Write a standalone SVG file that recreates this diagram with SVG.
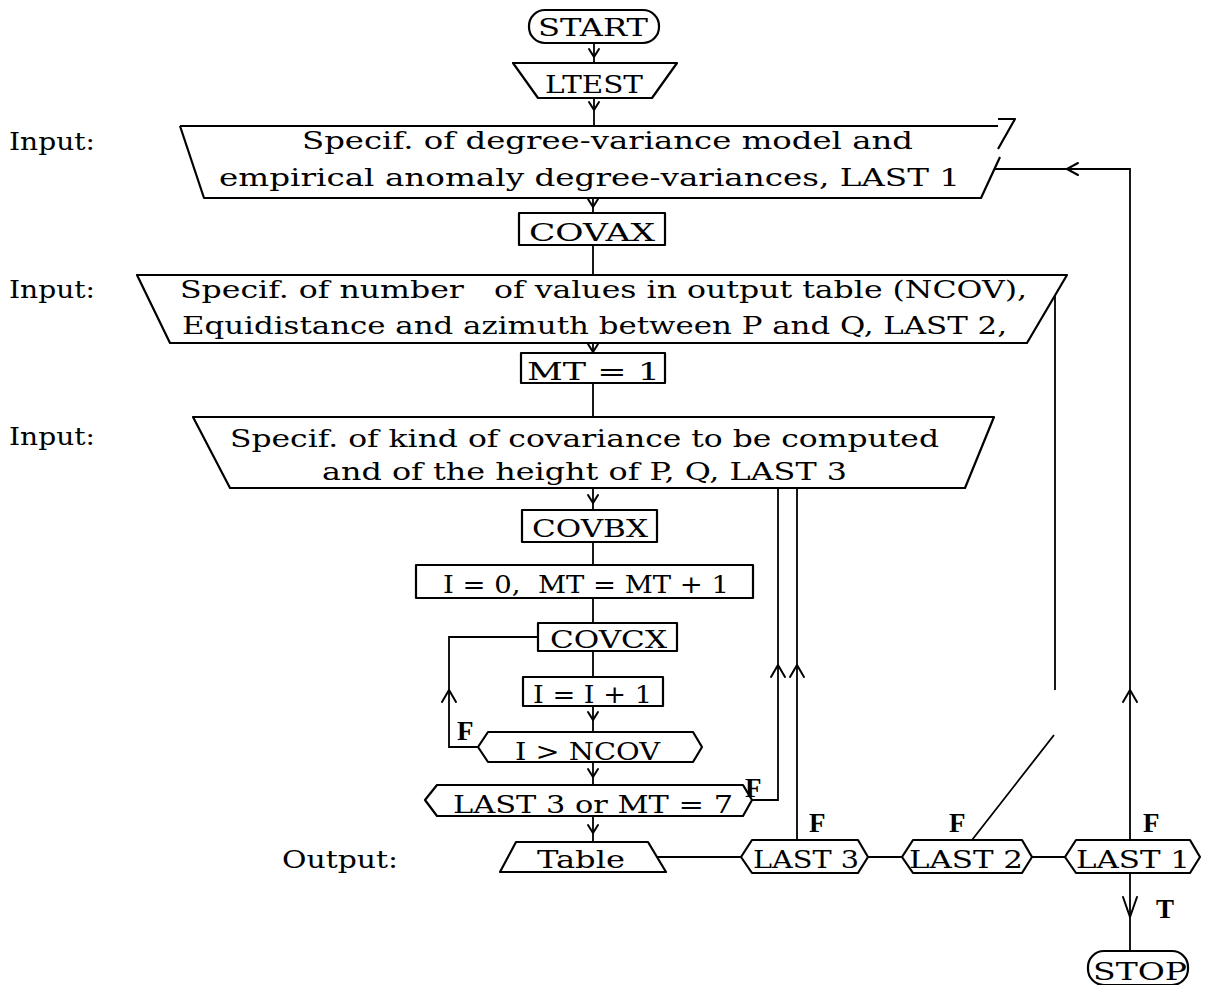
<svg xmlns="http://www.w3.org/2000/svg" xmlns:xlink="http://www.w3.org/1999/xlink" width="1210" height="985" viewBox="0 0 1210 985">
<style>
.sh{fill:none;stroke:#000;stroke-width:2.2;stroke-linejoin:round}
.ln{fill:none;stroke:#000;stroke-width:1.8}
.ah{fill:none;stroke:#000;stroke-width:2;stroke-linecap:round;stroke-linejoin:round}
text{font-family:"DejaVu Serif","Liberation Serif",serif;font-size:25px;fill:#000}
.f{font-family:"Liberation Serif",serif;font-weight:bold;font-size:27px}
</style>
<defs>
<path id="yd" d="M-5,-8 L0,0 L5,-8"/>
<path id="au" d="M-7,12 L0,0 L7,12"/>
<path id="al" d="M11,-6 L0,0 L11,6"/>
</defs>
<rect width="1210" height="985" fill="#fff"/>

<g id="start"><rect class="sh" x="529" y="10" width="130" height="33" rx="16"/><text x="538" y="36" textLength="110" lengthAdjust="spacingAndGlyphs">START</text></g>
<g id="ltest"><path class="sh" d="M513,63 L677,63 L652,98 L538,98 Z"/><text x="545" y="93" textLength="98" lengthAdjust="spacingAndGlyphs">LTEST</text></g>

<g id="input1"><text x="9" y="150" textLength="86" lengthAdjust="spacingAndGlyphs">Input:</text>
<path class="sh" d="M180,126 L998,126 M998,119 L1015,119 L998,149 M1000,157 L981,198 L204,198 L180,126"/>
<text x="302" y="149" textLength="611" lengthAdjust="spacingAndGlyphs">Specif. of degree-variance model and</text>
<text x="219" y="186" textLength="741" lengthAdjust="spacingAndGlyphs">empirical anomaly degree-variances, LAST 1</text></g>

<g id="covax"><rect class="sh" x="519" y="213" width="146" height="32"/><text x="529" y="241" textLength="126" lengthAdjust="spacingAndGlyphs">COVAX</text></g>

<g id="input2"><text x="9" y="298" textLength="86" lengthAdjust="spacingAndGlyphs">Input:</text>
<path class="sh" d="M137,275 L1067,275 L1027,343 L170,343 Z"/>
<text x="180" y="298" textLength="847" lengthAdjust="spacingAndGlyphs" xml:space="preserve">Specif. of number   of values in output table (NCOV),</text>
<text x="182" y="334" textLength="825" lengthAdjust="spacingAndGlyphs">Equidistance and azimuth between P and Q, LAST 2,</text></g>

<g id="mt1"><rect class="sh" x="521" y="353" width="144" height="30"/><text x="527" y="380" textLength="133" lengthAdjust="spacingAndGlyphs">MT = 1</text></g>

<g id="input3"><text x="9" y="445" textLength="86" lengthAdjust="spacingAndGlyphs">Input:</text>
<path class="sh" d="M193,417 L994,417 L965,488 L230,488 Z"/>
<text x="230" y="447" textLength="709" lengthAdjust="spacingAndGlyphs">Specif. of kind of covariance to be computed</text>
<text x="322" y="480" textLength="525" lengthAdjust="spacingAndGlyphs">and of the height of P, Q, LAST 3</text></g>

<g id="covbx"><rect class="sh" x="522" y="510" width="135" height="32"/><text x="532" y="537" textLength="116" lengthAdjust="spacingAndGlyphs">COVBX</text></g>
<g id="init"><rect class="sh" x="416" y="565" width="337" height="33"/><text x="443" y="593" textLength="286" lengthAdjust="spacingAndGlyphs" xml:space="preserve">I = 0,  MT = MT + 1</text></g>
<g id="covcx"><rect class="sh" x="538" y="623" width="139" height="28"/><text x="550" y="648" textLength="117" lengthAdjust="spacingAndGlyphs">COVCX</text></g>
<g id="inc"><rect class="sh" x="523" y="677" width="140" height="29"/><text x="533" y="703" textLength="119" lengthAdjust="spacingAndGlyphs">I = I + 1</text></g>
<g id="dec1"><path class="sh" d="M478,747 L488,732 L693,732 L702,747 L693,762 L488,762 Z"/><text x="515" y="760" textLength="145" lengthAdjust="spacingAndGlyphs">I &gt; NCOV</text></g>
<g id="dec2"><path class="sh" d="M425,800 L437,785 L743,785 L752,800 L743,816 L437,816 Z"/><text x="453" y="813" textLength="280" lengthAdjust="spacingAndGlyphs">LAST 3 or MT = 7</text></g>

<g id="output"><text x="282" y="868" textLength="116" lengthAdjust="spacingAndGlyphs">Output:</text>
<path class="sh" d="M516,842 L648,842 L666,872 L500,872 Z"/><text x="537" y="868" textLength="88" lengthAdjust="spacingAndGlyphs">Table</text></g>
<g id="last3"><path class="sh" d="M741,857 L752,840 L858,840 L868,857 L858,873 L752,873 Z"/><text x="753" y="868" textLength="106" lengthAdjust="spacingAndGlyphs">LAST 3</text></g>
<g id="last2"><path class="sh" d="M902,857 L913,840 L1022,840 L1032,857 L1022,873 L913,873 Z"/><text x="909" y="868" textLength="114" lengthAdjust="spacingAndGlyphs">LAST 2</text></g>
<g id="last1"><path class="sh" d="M1065,857 L1076,840 L1190,840 L1200,857 L1190,873 L1076,873 Z"/><text x="1076" y="868" textLength="114" lengthAdjust="spacingAndGlyphs">LAST 1</text></g>
<g id="stop"><rect class="sh" x="1088" y="951" width="100" height="34" rx="16"/><text x="1093" y="980" textLength="94" lengthAdjust="spacingAndGlyphs">STOP</text></g>

<g id="connectors">
<path class="ln" d="M594,43 V63 M594,98 V126 M593,198 V213 M593,245 V275 M593,343 V353 M593,383 V417 M593,488 V510 M593,542 V565 M593,598 V623 M593,651 V677 M593,706 V732 M593,762 V785 M593,816 V842"/>
<path class="ln" d="M538,637 H449 V747 H478"/>
<path class="ln" d="M752,800 H778 V488"/>
<path class="ln" d="M797,840 V488"/>
<path class="ln" d="M657,857 H741 M868,857 H902 M1032,857 H1065"/>
<path class="ln" d="M972,840 L1054,735 M1055,690 V295"/>
<path class="ln" d="M1130,840 V169 H995"/>
<path class="ln" d="M1130,873 V951"/>
<g class="ah">
<use xlink:href="#yd" x="594" y="57"/>
<use xlink:href="#yd" x="594" y="110"/>
<use xlink:href="#yd" x="593" y="207"/>
<use xlink:href="#yd" x="593" y="352"/>
<use xlink:href="#yd" x="593" y="503"/>
<use xlink:href="#yd" x="593" y="720"/>
<use xlink:href="#yd" x="593" y="777"/>
<use xlink:href="#yd" x="593" y="833"/>
<use xlink:href="#au" x="449" y="690"/>
<use xlink:href="#au" x="778" y="665"/>
<use xlink:href="#au" x="797" y="665"/>
<use xlink:href="#au" x="1130" y="690"/>
<use xlink:href="#al" x="1067" y="169"/>
<path d="M1123,897 L1130,917 L1137,897"/>
</g>
<text class="f" x="457" y="740">F</text>
<text class="f" x="745" y="797">F</text>
<text class="f" x="809" y="832">F</text>
<text class="f" x="949" y="832">F</text>
<text class="f" x="1143" y="832">F</text>
<text class="f" x="1156" y="918">T</text>
</g>
</svg>
